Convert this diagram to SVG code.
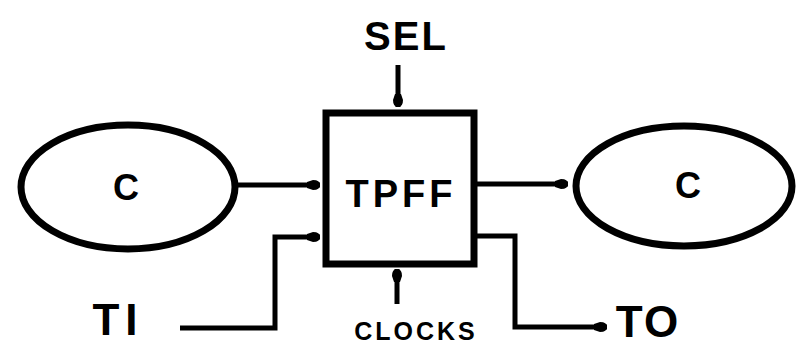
<svg xmlns="http://www.w3.org/2000/svg" width="804" height="352" viewBox="0 0 804 352">
<style>
.ln{fill:none;stroke:#000;stroke-width:5;stroke-linejoin:miter;stroke-linecap:butt}
.nd{fill:#fff;stroke:#000;stroke-width:7}
.lb{font-family:"Liberation Sans",Arial,sans-serif;font-weight:bold;fill:#000;text-anchor:middle}
</style>
<defs>
<marker id="dot" viewBox="0 0 14 12" refX="13" refY="6" markerWidth="14" markerHeight="12" markerUnits="userSpaceOnUse" orient="auto">
<path d="M0,3 L6,1 Q13,1 13,6 Q13,11 6,11 L0,9 Z" fill="#000"/>
</marker>
</defs>
<rect width="804" height="352" fill="#fff"/>
<g id="connectors">
<path class="ln" d="M238,185 L320,185" marker-end="url(#dot)"/>
<path class="ln" d="M180,328 L275,328 L275,237 L320,237" marker-end="url(#dot)"/>
<path class="ln" d="M477,184 L568,184" marker-end="url(#dot)"/>
<path class="ln" d="M477,236 L515,236 L515,327 L607,327" marker-end="url(#dot)"/>
<path class="ln" d="M398,65 L398,107" marker-end="url(#dot)"/>
<path class="ln" d="M397,304 L397,269" marker-end="url(#dot)"/>
</g>
<g id="node-c-left">
<ellipse class="nd" cx="128" cy="187" rx="107" ry="62"/>
<text class="lb" x="126" y="200" font-size="36">C</text>
</g>
<g id="node-tpff">
<rect class="nd" x="326" y="113" width="148" height="151"/>
<text class="lb" x="401" y="207" font-size="38" letter-spacing="4">TPFF</text>
</g>
<g id="node-c-right">
<ellipse class="nd" cx="684" cy="186" rx="108" ry="60"/>
<text class="lb" x="688" y="198" font-size="36">C</text>
</g>
<g id="labels">
<text class="lb" x="406" y="50" font-size="40" letter-spacing="2">SEL</text>
<text class="lb" x="118" y="335" font-size="44" letter-spacing="6">TI</text>
<text class="lb" x="648" y="337" font-size="44" letter-spacing="2">TO</text>
<text class="lb" x="416" y="340" font-size="25" letter-spacing="3">CLOCKS</text>
</g>
</svg>
